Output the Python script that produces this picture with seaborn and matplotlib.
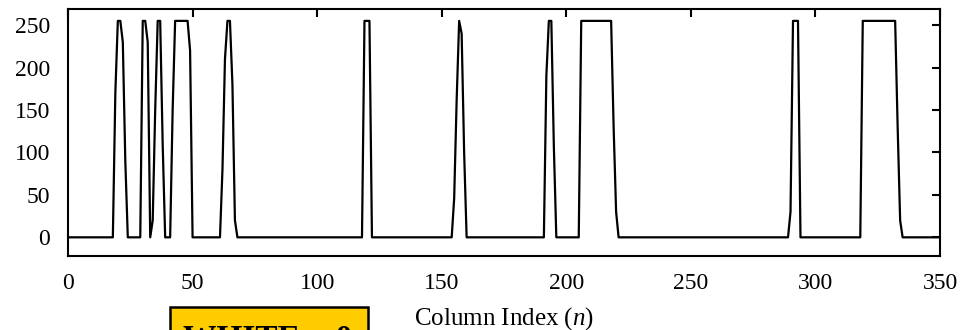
import numpy as np
import pandas as pd
import matplotlib
matplotlib.use("Agg")
import matplotlib.pyplot as plt
from matplotlib.patches import Rectangle
import seaborn as sns

# Column indices 0..350, intensity 0 (white) or 255 (black) with soft edges
n_cols = 351

run_starts = [18, 29, 41, 61, 118, 154, 191, 205, 289, 318]
run_values = [
    [0, 170, 255, 255, 230, 90, 0],
    [0, 255, 255, 230, 0, 20, 150, 255, 255, 110, 0],
    [0, 150, 255, 255, 255, 255, 255, 255, 220, 0],
    [0, 80, 210, 255, 255, 180, 20, 0],
    [0, 255, 255, 255, 0],
    [0, 46, 162, 255, 240, 100, 0],
    [0, 190, 255, 255, 108, 0],
    [0] + [255] * 13 + [130, 30, 0],
    [0, 30, 255, 255, 255, 0],
    [0] + [255] * 14 + [130, 20, 0],
]

x_ticks = [0, 50, 100, 150, 200, 250, 300, 350]
y_ticks = [0, 50, 100, 150, 200, 250]
x_label = "Column Index ($n$)"
box_text = "WHITE = 0"

# assemble the profile
intensity = np.zeros(n_cols)
for start, vals in zip(run_starts, run_values):
    intensity[start:start + len(vals)] = vals
df = pd.DataFrame({"col": np.arange(n_cols), "val": intensity})

sns.set_theme(style="white")
plt.rcParams["font.family"] = ["Liberation Serif", "DejaVu Serif"]
plt.rcParams["mathtext.fontset"] = "custom"
plt.rcParams["mathtext.rm"] = "Liberation Serif"
plt.rcParams["mathtext.it"] = "Liberation Serif:italic"

fig = plt.figure(figsize=(9.63, 3.30), dpi=100)
ax = fig.add_axes([68 / 963, 74 / 330, (940 - 68) / 963, (256 - 9) / 330])

sns.lineplot(data=df, x="col", y="val", color="black", linewidth=1.6,
             estimator=None, ax=ax)

ax.set_xlim(0, 350)
ax.set_ylim(-22, 269)
ax.set_xticks(x_ticks)
ax.set_yticks(y_ticks)
ax.set_xlabel(x_label, fontsize=18, color="black", labelpad=8)
ax.set_ylabel("")

for s in ax.spines.values():
    s.set_visible(True)
    s.set_linewidth(1.5)
    s.set_color("black")

ax.tick_params(direction="in", length=6, width=1.5, top=True, right=True,
               labelsize=17, colors="black")
ax.tick_params(axis="x", pad=12)
ax.tick_params(axis="y", pad=13)

# yellow label box, clipped by the bottom edge of the picture
fig.patches.append(Rectangle((170 / 963, -0.2), (368 - 170) / 963, 0.2 + (330 - 307) / 330,
                             transform=fig.transFigure, facecolor="#FFCC00",
                             edgecolor="black", linewidth=1.8, zorder=5))
fig.text(183 / 963, (330 - 347) / 330, box_text, fontsize=24, fontweight="bold",
         family="Liberation Serif", color="black", va="baseline", ha="left", zorder=6)

fig.savefig("out.png", dpi=100)
